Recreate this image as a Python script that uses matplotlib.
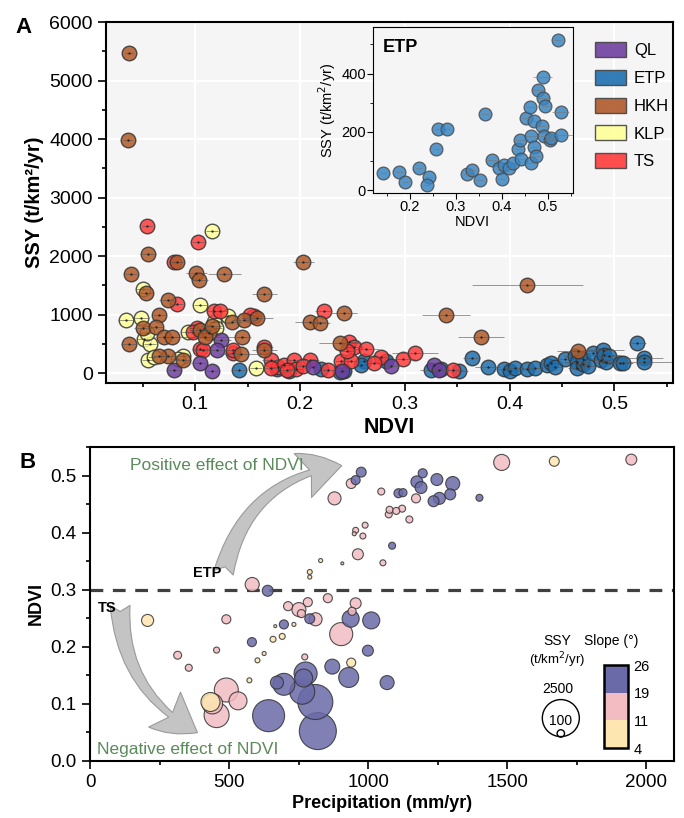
import numpy as np
import matplotlib.pyplot as plt
from matplotlib.patches import Patch, FancyArrowPatch
from matplotlib.colors import ListedColormap, BoundaryNorm
from matplotlib.cm import ScalarMappable
from matplotlib.ticker import MultipleLocator

plt.rcParams['font.family'] = ['Liberation Sans', 'DejaVu Sans']

# ---- panel A: NDVI, SSY (t/km2/yr) and NDVI error per region ----
ql_ndvi = [0.080, 0.1045, 0.116, 0.1245, 0.121, 0.212, 0.287, 0.328, 0.333, 0.240]
ql_ssy = [60, 170, 40, 560, 400, 110, 115, 140, 60, 30]
ql_err = [0.006, 0.008, 0.006, 0.01, 0.008, 0.006, 0.008, 0.006, 0.01, 0.006]

etp_ndvi = [0.142, 0.178, 0.190, 0.220, 0.242, 0.238, 0.261, 0.282, 0.258, 0.364,
            0.325, 0.335, 0.352, 0.379, 0.395, 0.400, 0.405, 0.417, 0.424, 0.436,
            0.440, 0.443, 0.453, 0.462, 0.464, 0.464, 0.470, 0.470, 0.475, 0.480,
            0.487, 0.489, 0.492, 0.490, 0.495, 0.505, 0.508, 0.522, 0.528, 0.528]
etp_ssy = [60, 63, 29, 75, 44, 17, 209, 211, 140, 262,
           57, 69, 34, 103, 75, 37, 86, 75, 94, 140,
           172, 106, 247, 285, 186, 92, 149, 236, 117, 345,
           221, 389, 186, 315, 290, 172, 180, 515, 267, 190]
etp_err = [0.006, 0.008, 0.006, 0.006, 0.008, 0.006, 0.008, 0.008, 0.006, 0.008,
           0.01, 0.008, 0.008, 0.012, 0.006, 0.008, 0.01, 0.006, 0.008, 0.006,
           0.01, 0.006, 0.008, 0.01, 0.012, 0.008, 0.006, 0.01, 0.008, 0.015,
           0.01, 0.02, 0.01, 0.015, 0.01, 0.012, 0.01, 0.008, 0.018, 0.03]

hkh_ndvi = [0.037, 0.0355, 0.055, 0.039, 0.083, 0.101, 0.104, 0.128, 0.203, 0.166,
            0.053, 0.074, 0.242, 0.037, 0.050, 0.066, 0.063, 0.070, 0.078, 0.074,
            0.066, 0.088, 0.105, 0.113, 0.109, 0.116, 0.135, 0.147, 0.159, 0.145,
            0.144, 0.166, 0.210, 0.219, 0.238, 0.339, 0.417, 0.373, 0.465]
hkh_ssy = [5480, 3980, 2035, 1700, 1900, 1710, 1590, 1690, 1900, 1360,
           1375, 1250, 1030, 505, 765, 995, 790, 620, 610, 300,
           290, 230, 740, 680, 620, 800, 880, 910, 940, 625,
           330, 390, 880, 850, 515, 995, 1505, 625, 385]
hkh_err = [0.004, 0.004, 0.008, 0.006, 0.006, 0.01, 0.008, 0.016, 0.01, 0.012,
           0.006, 0.008, 0.012, 0.008, 0.008, 0.006, 0.006, 0.008, 0.008, 0.01,
           0.006, 0.008, 0.01, 0.012, 0.04, 0.01, 0.01, 0.012, 0.015, 0.008,
           0.02, 0.012, 0.015, 0.01, 0.02, 0.023, 0.053, 0.022, 0.02]

klp_ndvi = [0.116, 0.050, 0.105, 0.034, 0.048, 0.051, 0.057, 0.055, 0.061, 0.088,
            0.093, 0.131, 0.118, 0.158, 0.054, 0.120, 0.084]
klp_ssy = [2430, 1430, 1165, 915, 935, 580, 500, 230, 280, 300,
           700, 985, 870, 90, 680, 780, 250]
klp_err = [0.006, 0.006, 0.006, 0.008, 0.008, 0.006, 0.006, 0.006, 0.006, 0.008,
           0.006, 0.008, 0.006, 0.006, 0.006, 0.006, 0.006]

ts_ndvi = [0.054, 0.103, 0.080, 0.0825, 0.118, 0.124, 0.105, 0.156, 0.152, 0.2225,
           0.136, 0.102, 0.098, 0.166, 0.108, 0.136, 0.172, 0.179, 0.185, 0.194,
           0.196, 0.210, 0.203, 0.188, 0.247, 0.252, 0.263, 0.239, 0.249, 0.277,
           0.271, 0.298, 0.310, 0.346, 0.245, 0.227, 0.172]
ts_ssy = [2510, 2245, 1900, 1190, 1070, 1060, 410, 970, 1000, 1060,
          340, 770, 700, 455, 400, 400, 220, 100, 140, 230,
          70, 230, 130, 60, 540, 455, 410, 200, 200, 275,
          170, 240, 350, 60, 380, 60, 80]
ts_err = [0.005, 0.006, 0.006, 0.006, 0.008, 0.006, 0.008, 0.01, 0.008, 0.008,
          0.008, 0.008, 0.006, 0.008, 0.01, 0.008, 0.008, 0.006, 0.01, 0.008,
          0.006, 0.008, 0.006, 0.006, 0.01, 0.008, 0.012, 0.006, 0.008, 0.01,
          0.008, 0.012, 0.022, 0.01, 0.008, 0.006, 0.006]

region_names = ['QL', 'ETP', 'HKH', 'KLP', 'TS']
region_colors = ['#6f3fa0', '#1f6fae', '#b05a2a', '#ffff99', '#ff3b3b']

# ---- panel B: precipitation, NDVI, SSY, slope ----
precip = [207, 433, 573, 602, 626, 658, 691, 666, 733, 939, 790, 790, 829, 1669,
          315, 355, 455, 490, 583, 490, 455, 532, 440, 772, 903, 955, 942, 751,
          760, 811, 712, 783, 855, 879, 939, 989, 955, 950, 981, 963, 907, 1047,
          1077, 1101, 1122, 1074, 1148, 1172, 1053, 1480, 1946,
          639, 582, 642, 819, 810, 763, 775, 768, 697, 672, 871, 930, 999, 697,
          937, 1011, 790, 975, 955, 1109, 1125, 1196, 1175, 1190, 1247, 1304,
          1295, 1235, 1256, 1400, 1086, 1068]
ndvi_b = [0.246, 0.103, 0.141, 0.176, 0.188, 0.213, 0.218, 0.236, 0.239, 0.172, 0.331, 0.322, 0.351, 0.525,
          0.185, 0.163, 0.194, 0.248, 0.309, 0.124, 0.080, 0.105, 0.100, 0.182, 0.222, 0.276, 0.262, 0.265,
          0.258, 0.248, 0.271, 0.278, 0.285, 0.460, 0.486, 0.413, 0.404, 0.398, 0.394, 0.362, 0.346, 0.472,
          0.440, 0.438, 0.442, 0.432, 0.423, 0.460, 0.347, 0.523, 0.528,
          0.298, 0.208, 0.079, 0.052, 0.103, 0.121, 0.153, 0.145, 0.134, 0.137, 0.165, 0.146, 0.193, 0.239,
          0.249, 0.246, 0.249, 0.506, 0.492, 0.469, 0.470, 0.504, 0.489, 0.479, 0.493, 0.486,
          0.467, 0.455, 0.460, 0.461, 0.377, 0.137]
ssy_b = [265, 660, 45, 45, 30, 65, 65, 16, 30, 150, 45, 30, 30, 180,
         115, 90, 66, 150, 360, 1050, 1140, 590, 760, 66, 970, 220, 120, 360,
         120, 310, 150, 150, 150, 310, 180, 66, 66, 30, 66, 220, 16, 90,
         90, 90, 90, 90, 90, 150, 66, 470, 220,
         220, 150, 1870, 2500, 2240, 1140, 970, 590, 880, 310, 410, 730, 220, 150,
         530, 530, 180, 180, 150, 150, 120, 150, 260, 260, 260, 360,
         220, 220, 260, 90, 90, 360]
slope_b = [8] * 14 + [15] * 37 + [22] * 32

slope_bounds = [4, 11, 19, 26]
slope_colors = ['#fde6b0', '#f2bcc2', '#6a6aa8']

fig = plt.figure(figsize=(6.84, 8.18), dpi=100)

# ================= panel A =================
axA = fig.add_axes([0.155, 0.532, 0.829, 0.441])
axA.set_facecolor('#f5f5f5')
axA.grid(True, color='white', lw=1.5)
axA.set_axisbelow(True)

groups = [
    (etp_ndvi, etp_ssy, etp_err, region_colors[1]),
    (klp_ndvi, klp_ssy, klp_err, region_colors[3]),
    (ts_ndvi, ts_ssy, ts_err, region_colors[4]),
    (ql_ndvi, ql_ssy, ql_err, region_colors[0]),
    (hkh_ndvi, hkh_ssy, hkh_err, region_colors[2]),
]
for i, (x, y, e, c) in enumerate(groups):
    z = 2 + i
    axA.scatter(x, y, s=110, c=c, alpha=0.85, edgecolors='#333333', linewidths=1.0, zorder=z)
    axA.errorbar(x, y, xerr=e, fmt='none', ecolor='#555555', elinewidth=0.7, alpha=0.6, zorder=z + 0.3)
    axA.scatter(x, y, s=0.4, c='#222222', zorder=z + 0.4)

axA.set_xlim(0.015, 0.556)
axA.set_ylim(-165, 6000)
axA.xaxis.set_major_locator(MultipleLocator(0.1))
axA.xaxis.set_minor_locator(MultipleLocator(0.05))
axA.yaxis.set_major_locator(MultipleLocator(1000))
axA.yaxis.set_minor_locator(MultipleLocator(500))
axA.tick_params(labelsize=14, direction='out', length=6, width=1.2)
axA.tick_params(which='minor', direction='out', length=3, width=1.2)
for sp in axA.spines.values():
    sp.set_linewidth(1.5)
axA.set_xlabel('NDVI', fontsize=15.5, fontweight='bold', labelpad=3)
axA.set_ylabel('SSY (t/km²/yr)', fontsize=14.5, fontweight='bold', labelpad=4)
fig.text(0.034, 0.966, 'A', fontsize=16, fontweight='bold', ha='center', va='center')

handles = [Patch(facecolor=c, edgecolor='#444444', lw=1, alpha=0.9) for c in region_colors]
axA.legend(handles, region_names, loc='upper left', bbox_to_anchor=(0.862, 0.945),
           frameon=False, fontsize=12, handlelength=1.85, handleheight=1.0,
           labelspacing=0.7, handletextpad=0.5, borderpad=0, borderaxespad=0)

# inset
axI = fig.add_axes([0.545, 0.764, 0.292, 0.203])
axI.set_facecolor('#f5f5f5')
axI.scatter(etp_ndvi, etp_ssy, s=85, c='#3a85c2', alpha=0.85, edgecolors='#4a4a4a', linewidths=0.9, zorder=3)
axI.errorbar(etp_ndvi, etp_ssy, xerr=etp_err, fmt='none', ecolor='#777777', elinewidth=0.7, alpha=0.6, zorder=4)
axI.set_xlim(0.12, 0.554)
axI.set_ylim(-10, 560)
axI.xaxis.set_major_locator(MultipleLocator(0.1))
axI.xaxis.set_minor_locator(MultipleLocator(0.05))
axI.yaxis.set_major_locator(MultipleLocator(200))
axI.yaxis.set_minor_locator(MultipleLocator(100))
axI.tick_params(labelsize=10.5, direction='out', length=4, pad=1)
axI.tick_params(which='minor', direction='out', length=2)
axI.set_xlabel('NDVI', fontsize=10.5, labelpad=1)
axI.set_ylabel('SSY (t/km$^2$/yr)', fontsize=10.5, labelpad=2)
axI.text(0.05, 0.93, 'ETP', transform=axI.transAxes, fontsize=13, fontweight='bold', va='top')

# ================= panel B =================
axB = fig.add_axes([0.1316, 0.070, 0.854, 0.3835])
cmap = ListedColormap(slope_colors)
norm = BoundaryNorm(slope_bounds, cmap.N)

order = np.argsort(ssy_b)[::-1]
px = np.array(precip)[order]
py = np.array(ndvi_b)[order]
ps = np.array(ssy_b)[order]
pc = np.array(slope_b)[order]
axB.scatter(px, py, s=0.284 * ps, c=pc, cmap=cmap, norm=norm, alpha=0.85,
            edgecolors='#333333', linewidths=0.8, zorder=3)

axB.axhline(0.3, color='#404040', lw=2.3, ls=(0, (4, 3)), zorder=2)

axB.set_xlim(0, 2100)
axB.set_ylim(0, 0.55)
axB.xaxis.set_major_locator(MultipleLocator(500))
axB.xaxis.set_minor_locator(MultipleLocator(250))
axB.yaxis.set_major_locator(MultipleLocator(0.1))
axB.yaxis.set_minor_locator(MultipleLocator(0.05))
axB.tick_params(labelsize=13.5, direction='out', length=6, width=1.2)
axB.tick_params(which='minor', direction='out', length=3, width=1.2)
for sp in axB.spines.values():
    sp.set_linewidth(1.5)
axB.set_xlabel('Precipitation (mm/yr)', fontsize=13, fontweight='bold', labelpad=3)
axB.set_ylabel('NDVI', fontsize=13, fontweight='bold', labelpad=4)
fig.text(0.040, 0.435, 'B', fontsize=16, fontweight='bold', ha='center', va='center')

# arrows and annotations
arrow_kw = dict(arrowstyle='fancy,head_length=0.85,head_width=1.0,tail_width=0.42',
                mutation_scale=34, facecolor='#c4c4c4', edgecolor='#9a9a9a', lw=0.8, zorder=1)
axB.add_patch(FancyArrowPatch((478, 0.325), (915, 0.518), connectionstyle='arc3,rad=-0.35', **arrow_kw))
axB.add_patch(FancyArrowPatch((108, 0.277), (395, 0.047), connectionstyle='arc3,rad=0.3', **arrow_kw))
axB.text(144, 0.518, 'Positive effect of NDVI', color='#5b8a5b', fontsize=12.5, va='center')
axB.text(25, 0.019, 'Negative effect of NDVI', color='#5b8a5b', fontsize=12.5, va='center')
axB.text(370, 0.330, 'ETP', fontsize=10.5, fontweight='bold', va='center')
axB.text(28, 0.267, 'TS', fontsize=10.5, fontweight='bold', va='center')

# size legend
axB.text(0.80, 0.382, 'SSY', transform=axB.transAxes, fontsize=10, ha='center', va='center')
axB.text(0.80, 0.321, '(t/km$^2$/yr)', transform=axB.transAxes, fontsize=9.5, ha='center', va='center')
axB.scatter([0.806], [0.136], s=0.284 * 2500, transform=axB.transAxes, facecolors='none',
            edgecolors='k', linewidths=1, zorder=5, clip_on=False)
axB.scatter([0.806], [0.087], s=0.284 * 100, transform=axB.transAxes, facecolors='none',
            edgecolors='k', linewidths=1, zorder=5, clip_on=False)
axB.text(0.80, 0.229, '2500', transform=axB.transAxes, fontsize=10, ha='center', va='center')
axB.text(0.806, 0.127, '100', transform=axB.transAxes, fontsize=10, ha='center', va='center')

# slope colour bar
axB.text(0.892, 0.382, 'Slope (°)', transform=axB.transAxes, fontsize=10, ha='center', va='center')
cax = axB.inset_axes([0.880, 0.040, 0.041, 0.265])
cb = fig.colorbar(ScalarMappable(norm=norm, cmap=cmap), cax=cax, ticks=slope_bounds)
cb.outline.set_linewidth(1.8)
cax.tick_params(length=0, labelsize=10.5, pad=4)

fig.savefig('out.png', dpi=100)
